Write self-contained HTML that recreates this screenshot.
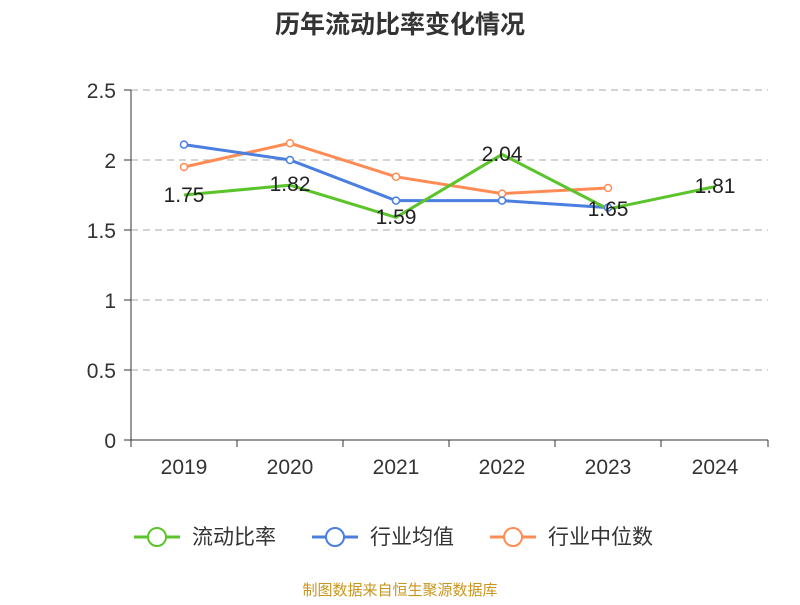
<!DOCTYPE html>
<html><head><meta charset="utf-8"><style>
body{margin:0;background:#fff;}
svg text{font-family:"Liberation Sans","Noto Sans CJK SC",sans-serif;}
</style></head><body>
<svg width="800" height="600" viewBox="0 0 800 600" xmlns="http://www.w3.org/2000/svg">
<rect width="800" height="600" fill="#fff"/>
<text x="400" y="33" text-anchor="middle" font-size="25" font-weight="bold" fill="#333">历年流动比率变化情况</text>
<g stroke="#bbb" stroke-dasharray="7,5" stroke-width="1.2">
<line x1="131" y1="90" x2="768" y2="90"/><line x1="131" y1="160" x2="768" y2="160"/>
<line x1="131" y1="230" x2="768" y2="230"/><line x1="131" y1="300" x2="768" y2="300"/>
<line x1="131" y1="370" x2="768" y2="370"/>
</g>
<g stroke="#333" stroke-width="1">
<line x1="131" y1="90" x2="131" y2="440"/>
<line x1="124" y1="90" x2="131" y2="90"/><line x1="124" y1="160" x2="131" y2="160"/>
<line x1="124" y1="230" x2="131" y2="230"/><line x1="124" y1="300" x2="131" y2="300"/>
<line x1="124" y1="370" x2="131" y2="370"/><line x1="124" y1="440" x2="131" y2="440"/>
<line x1="131" y1="440" x2="768" y2="440"/>
<line x1="131" y1="440" x2="131" y2="447"/><line x1="237" y1="440" x2="237" y2="447"/>
<line x1="343" y1="440" x2="343" y2="447"/><line x1="449" y1="440" x2="449" y2="447"/>
<line x1="555" y1="440" x2="555" y2="447"/><line x1="661" y1="440" x2="661" y2="447"/>
<line x1="768" y1="440" x2="768" y2="447"/>
</g>
<g font-size="21" fill="#333" text-anchor="end">
<text x="116" y="98">2.5</text><text x="116" y="168">2</text><text x="116" y="238">1.5</text>
<text x="116" y="308">1</text><text x="116" y="378">0.5</text><text x="116" y="448">0</text>
</g>
<g font-size="21" fill="#333" text-anchor="middle">
<text x="184" y="474">2019</text><text x="290" y="474">2020</text><text x="396" y="474">2021</text>
<text x="502" y="474">2022</text><text x="608" y="474">2023</text><text x="715" y="474">2024</text>
</g>
<polyline fill="none" stroke="#ff8c55" stroke-width="3" points="184,167 290,143.2 396,176.8 502,193.6 608,188"/>
<polyline fill="none" stroke="#4a7fe0" stroke-width="3" points="184,144.6 290,160 396,200.6 502,200.6 608,207.6"/>
<polyline fill="none" stroke="#5ac42a" stroke-width="3" points="184,195 290,185.2 396,217.4 502,154.4 608,209 715,186.6"/>
<g fill="#fff" stroke="#ff8c55" stroke-width="1.5">
<circle cx="184" cy="167" r="3.5"/><circle cx="290" cy="143.2" r="3.5"/><circle cx="396" cy="176.8" r="3.5"/><circle cx="502" cy="193.6" r="3.5"/><circle cx="608" cy="188" r="3.5"/>
</g>
<g fill="#fff" stroke="#4a7fe0" stroke-width="1.5">
<circle cx="184" cy="144.6" r="3.5"/><circle cx="290" cy="160" r="3.5"/><circle cx="396" cy="200.6" r="3.5"/><circle cx="502" cy="200.6" r="3.5"/><circle cx="608" cy="207.6" r="3.5"/>
</g>
<g font-size="21" fill="#222" text-anchor="middle">
<text x="184" y="202">1.75</text><text x="290" y="191">1.82</text><text x="396" y="224">1.59</text>
<text x="502" y="161">2.04</text><text x="608" y="216">1.65</text><text x="715" y="193">1.81</text>
</g>
<g font-size="21" fill="#333">
<line x1="134" y1="537" x2="180" y2="537" stroke="#5ac42a" stroke-width="3"/>
<circle cx="157" cy="537" r="9" fill="#fff" stroke="#5ac42a" stroke-width="2"/>
<text x="192" y="544">流动比率</text>
<line x1="312" y1="537" x2="358" y2="537" stroke="#4a7fe0" stroke-width="3"/>
<circle cx="335" cy="537" r="9" fill="#fff" stroke="#4a7fe0" stroke-width="2"/>
<text x="370" y="544">行业均值</text>
<line x1="490" y1="537" x2="536" y2="537" stroke="#ff8c55" stroke-width="3"/>
<circle cx="513" cy="537" r="9" fill="#fff" stroke="#ff8c55" stroke-width="2"/>
<text x="548" y="544">行业中位数</text>
</g>
<text x="400" y="595" text-anchor="middle" font-size="15" fill="#c8961e">制图数据来自恒生聚源数据库</text>
</svg>
</body></html>
